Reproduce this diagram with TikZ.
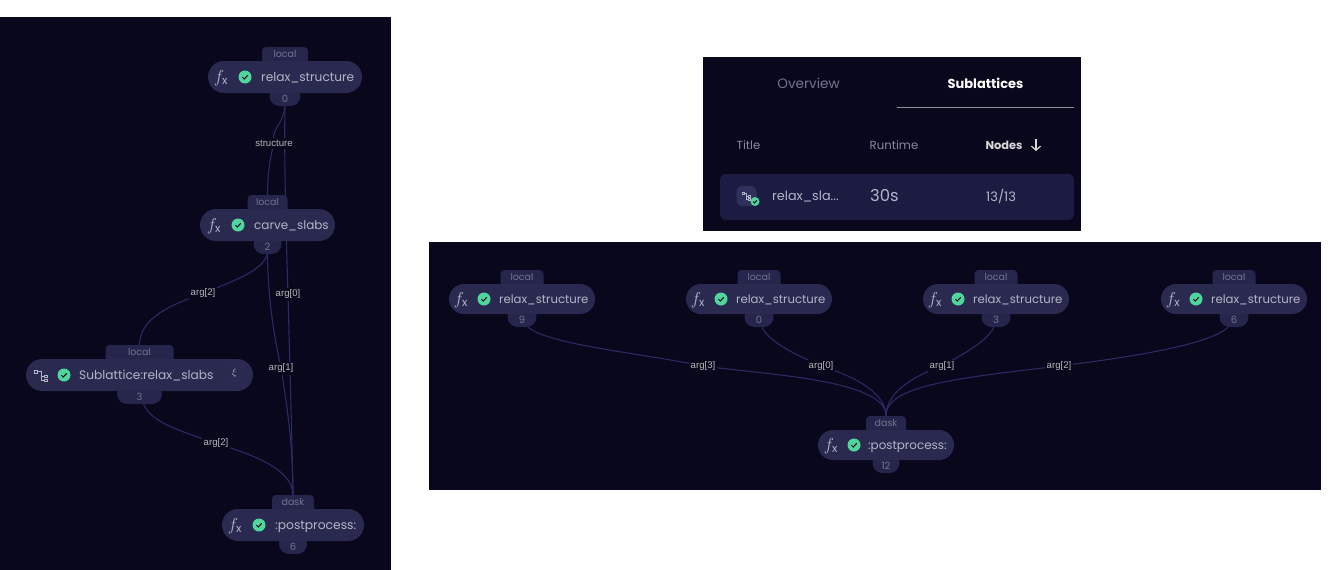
\documentclass[tikz,border=0pt]{standalone}
\usepackage{fontspec}
\setmainfont{Poppins}
\newfontfamily\edgefont{Liberation Sans}
\usetikzlibrary{arrows.meta}
\usetikzlibrary{backgrounds}
\usetikzlibrary{shapes.misc}
\definecolor{panelbg}{HTML}{08071C}
\definecolor{pillbg}{HTML}{2A2A50}
\definecolor{tabbg}{HTML}{26264D}
\definecolor{rowbg}{HTML}{1C1C42}
\definecolor{iconbg}{HTML}{30305C}
\definecolor{edgeblue}{HTML}{2B2B63}
\definecolor{okgreen}{HTML}{4FD69C}
\definecolor{pilltext}{HTML}{B4B4C8}
\definecolor{dimtext}{HTML}{73738F}
\definecolor{headtext}{HTML}{8A8A9E}
\tikzset{
  flow pill/.style = {rounded rectangle, fill=pillbg, inner sep=0pt, minimum height=#1},
  flow tab/.style = {fill=tabbg, rounded corners=4pt, inner sep=0pt, minimum height=20pt,
    text=dimtext, font=\fontsize{9.5}{9.5}\selectfont},
  flow num/.style = {rounded rectangle, fill=tabbg, inner sep=0pt, minimum height=20pt,
    text=dimtext, font=\fontsize{10}{10}\selectfont},
  flow text/.style = {text=pilltext, inner sep=0pt, anchor=base west, yshift=-4.5pt,
    font=\fontsize{#1}{#1}\selectfont},
  flow text/.default = 12.2,
  edge label/.style = {fill=panelbg, inner sep=2pt, text=white!72!black,
    font=\edgefont\fontsize{9.6}{9.6}\selectfont},
  flow edge/.style = {draw=edgeblue, line width=1.1pt},
  head text/.style = {inner sep=0pt, font=\fontsize{11.7}{11.7}\selectfont}
}
% check badge at #1,#2 with radius #3
\newcommand{\drawbadge}[4]{
  \node[circle, fill=okgreen, inner sep=0pt, minimum size=#3*2pt] (#4) at (#1,#2) {};
  \draw[panelbg, line width=1pt, shift={(#1,#2)}, scale=#3/6.5]
    (-2.6,0.2) -- (-0.7,2) -- (2.8,-1.8);
}
% three boxes joined by lines
\newcommand{\drawlattice}[3]{
  \begin{scope}[shift={(#1,#2)}, scale=#3, line width=0.8pt]
    \draw[pilltext] (-6.5,-5) rectangle (-3.5,-2.5);
    \draw[pilltext] (3,-0.5) rectangle (6,2);
    \draw[pilltext] (3,3.5) rectangle (6,6);
    \draw[pilltext] (-3.5,-3.7) -- (0.5,-3.7) -- (0.5,4.7) -- (3,4.7);
    \draw[pilltext] (0.5,0.7) -- (3,0.7);
  \end{scope}
}
% name, centre x, centre y, width, height, tab width, tab text, num width, num text
\newcommand{\drawflownode}[9]{
  \node[flow tab, minimum width=#6pt] (#1tab) at (#2,#3-#5/2-4) {\raisebox{0pt}[0pt][0pt]{#7}};
  \node[flow num, minimum width=#8pt] (#1num) at (#2,#3+#5/2+3) {\raisebox{-6.5pt}[0pt][0pt]{#9}};
  \node[flow pill=#5pt, minimum width=#4pt] (#1) at (#2,#3) {};
}
\newcommand{\drawfx}[3]{
  \node[text=pilltext, inner sep=0pt, font=\fontsize{16}{16}\selectfont] (#3) at (#1,#2+1)
    {$f_{\mathrm{x}}$};
}

\begin{document}
\begin{tikzpicture}[x=1pt, y=-1pt]
  \useasboundingbox (0,0) rectangle (1344,570);

  % Left graph
  \drawflownode{relaxA}{285}{77}{154}{32}{46}{local}{31}{0}
  \drawfx{221}{77}{fxA}
  \drawbadge{245}{77}{6.5}{okA}
  \node[flow text] (txtA) at (261,77) {relax\_structure};

  \drawflownode{carve}{267.5}{225}{135}{32}{40}{local}{28}{2}
  \drawfx{214}{225}{fxB}
  \drawbadge{238}{225}{6.5}{okB}
  \node[flow text=12] (txtB) at (254,225) {carve\_slabs};

  \drawflownode{sub}{139.5}{375}{227}{32}{68}{local}{45}{3}
  \drawlattice{41}{375.5}{1}
  \drawbadge{64}{375}{6.5}{okC}
  \node[flow text] (txtC) at (79,375) {Sublattice:relax\_slabs};
  \node[draw=iconbg, fill=pillbg, rounded corners=3pt, inner sep=0pt, minimum size=15pt,
    text=pilltext, font=\fontsize{10}{10}\selectfont] (expand) at (234.5,373) {\raisebox{1pt}{$\xi$}};

  \drawflownode{post}{293}{525}{142}{32}{42}{dask}{28}{6}
  \drawfx{235}{525}{fxD}
  \drawbadge{259}{525}{6.5}{okD}
  \node[flow text=12.3] (txtD) at (275,525) {:postprocess:};

  \node[edge label] (lblS) at (274,143.5) {structure};
  \node[edge label] (lbl2a) at (203,293.5) {arg[2]};
  \node[edge label] (lbl0a) at (288,294.5) {arg[0]};
  \node[edge label] (lbl1a) at (281,368.5) {arg[1]};
  \node[edge label] (lbl2b) at (216,443.5) {arg[2]};

  % Right graph
  \foreach \nm/\cx/\id in {n9/522/9,n0/759/0,n3/996/3,n6/1234/6} {
    \drawflownode{\nm}{\cx}{299}{146}{30}{43}{local}{29}{\id}
    \drawfx{\cx-61}{299}{fx\nm}
    \drawbadge{\cx-38}{299}{6.5}{ok\nm}
    \node[flow text=11.7] (txt\nm) at (\cx-23,299) {relax\_structure};
  }
  \drawflownode{pp}{886}{445}{136}{30}{40}{dask}{27}{12}
  \drawfx{831}{445}{fxpp}
  \drawbadge{854}{445}{6.5}{okpp}
  \node[flow text=11.9] (txtpp) at (868,445) {:postprocess:};

  \node[edge label] (lbl3) at (703,366) {arg[3]};
  \node[edge label] (lbl0) at (821,366) {arg[0]};
  \node[edge label] (lbl1) at (942,366) {arg[1]};
  \node[edge label] (lbl2) at (1059,366) {arg[2]};

  % Sublattices table
  \node[head text, dimtext, font=\fontsize{13.6}{13.6}\selectfont] (overview) at (808.5,83) {Overview};
  \node[head text, white, font=\fontsize{13}{13}\selectfont\bfseries] (sublat) at (985.5,83) {Sublattices};
  \coordinate (tabL) at (897,107);
  \coordinate (tabR) at (1074,107);
  \draw[white!55!panelbg, line width=1pt] (tabL) -- (tabR);
  \node[head text, headtext] (ttl) at (748.5,145) {Title};
  \node[head text, headtext] (rtm) at (894,145) {Runtime};
  \node[head text, white!85!black, font=\fontsize{11.4}{11.4}\selectfont\bfseries] (nds) at (1004,145) {Nodes};
  \coordinate (arrT) at (1036,139);
  \coordinate (arrB) at (1036,151);
  \draw[-{Straight Barb[length=4pt,width=9pt]}, white!85!black, line width=1.2pt] (arrT) -- (arrB);
  \node[fill=iconbg, rounded corners=6pt, inner sep=0pt, minimum size=20pt] (rowicon) at (746.5,196) {};
  \drawlattice{746.5}{196}{0.65}
  \drawbadge{755}{201.5}{4.5}{okrow}
  \node[flow text=12.8] (rowname) at (772,196) {relax\_sla...};
  \node[flow text=16.4] (rowtime) at (870,197) {30s};
  \node[flow text=13] (rownodes) at (986,196.5) {13/13};

  \begin{scope}[on background layer]
    \fill[white] (0,0) rectangle (1344,570);
    \fill[panelbg] (0,17) rectangle (391,570);
    \fill[panelbg] (429,242) rectangle (1320.5,489.5);
    \fill[panelbg] (703,57) rectangle (1081,231);
    \fill[rowbg, rounded corners=6pt] (720,174) rectangle (1074,220);

    \draw[flow edge] (relaxAnum.south) .. controls (283,125) and (270,130) .. (lblS.center)
      .. controls (268,165) and (268,180) .. (carvetab.north);
    \draw[flow edge] (relaxAnum.south) .. controls (284,160) and (286,230) .. (lbl0a.center)
      .. controls (290,370) and (292,440) .. (posttab.north);
    \draw[flow edge] (carvenum.south) .. controls (268,300) and (274,335) .. (lbl1a.center)
      .. controls (288,410) and (293,450) .. (posttab.north);
    \draw[flow edge] (carvenum.south) .. controls (262,272) and (230,282) .. (lbl2a.center)
      .. controls (170,305) and (140,318) .. (subtab.north);
    \draw[flow edge] ([xshift=4pt]subnum.south) .. controls (152,424) and (185,432) .. (lbl2b.center)
      .. controls (255,455) and (293,470) .. (posttab.north);

    \draw[flow edge] ([xshift=6pt]n9num.south) .. controls (550,345) and (640,353) .. (lbl3.center)
      .. controls (770,375) and (886,380) .. (pptab.north);
    \draw[flow edge] ([xshift=3pt]n0num.south) .. controls (770,342) and (790,352) .. (lbl0.center)
      .. controls (860,378) and (886,395) .. (pptab.north);
    \draw[flow edge] ([xshift=-2pt]n3num.south) .. controls (986,342) and (965,353) .. (lbl1.center)
      .. controls (908,378) and (886,395) .. (pptab.north);
    \draw[flow edge] ([xshift=-6pt]n6num.south) .. controls (1210,345) and (1125,358) .. (lbl2.center)
      .. controls (960,378) and (886,385) .. (pptab.north);
  \end{scope}
\end{tikzpicture}
\end{document}
